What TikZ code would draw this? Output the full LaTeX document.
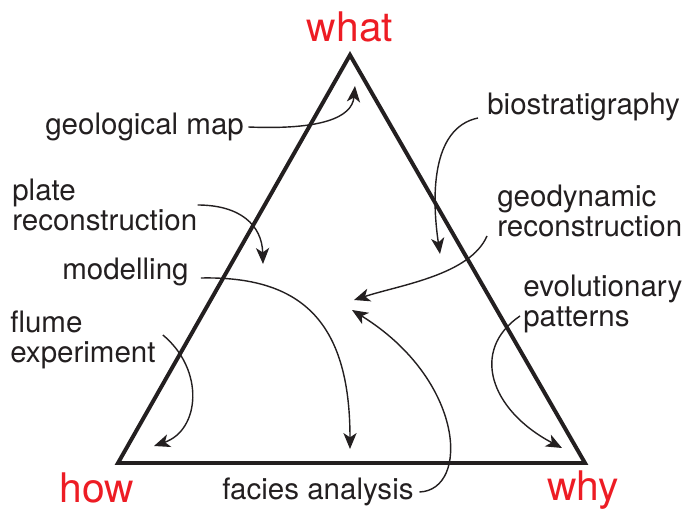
\documentclass[tikz,border=0pt]{standalone}
\usepackage{fontspec}
\setmainfont{TeX Gyre Heros}
\usepackage{xcolor}
\usetikzlibrary{arrows.meta, positioning}
\definecolor{vertexred}{RGB}{237,28,36}
\definecolor{inkgray}{RGB}{35,31,32}

\begin{document}
\begin{tikzpicture}[x=0.025cm, y=-0.025cm,
    side/.style={line width=2.8pt, line join=miter, color=inkgray},
    lbl/.style={font=\fontsize{21}{21}\selectfont, align=left, inner sep=0pt, text=inkgray},
    vtx/.style={font=\fontsize{29}{29}\selectfont, text=vertexred, inner sep=0pt},
    arr/.style={-{Stealth[length=4mm, width=3.3mm, inset=1.1mm]}, line width=1pt, color=inkgray}
]
\useasboundingbox (0,0) rectangle (686,511);

% triangle corners
\coordinate (top)   at (350,55);
\coordinate (left)  at (118,463);
\coordinate (right) at (585,463);
\draw[side] (top) -- (right) -- (left) -- cycle;

\node[vtx] (what) at (350,27)  {what};
\node[vtx] (how)  at (97,488)  {how};
\node[vtx] (why)  at (583,490) {why};

% labels round the triangle
\node[lbl, anchor=west] (geomap)  at (45,127)  {geological map};
\node[lbl, anchor=west] (bio)     at (487,107) {biostratigraphy};
\node[lbl, anchor=west] (plate)   at (12,205)  {plate\\reconstruction};
\node[lbl, anchor=west] (geodyn)  at (497,211) {geodynamic\\reconstruction};
\node[lbl, anchor=west] (model)   at (62,272)  {modelling};
\node[lbl, anchor=west] (evol)    at (523,304) {evolutionary\\patterns};
\node[lbl, anchor=west] (flume)   at (10,340)  {flume\\experiment};
\node[lbl, anchor=west] (facies)  at (222,492) {facies analysis};

% arrow tips inside the triangle
\coordinate (tmap)    at (355,86);
\coordinate (tbio)    at (440,254);
\coordinate (tplate)  at (263,264);
\coordinate (tmodel)  at (350,449);
\coordinate (tgeodyn) at (354,300);
\coordinate (tfacies) at (352,310);
\coordinate (tevol)   at (562,448);
\coordinate (tflume)  at (154,446);

\draw[arr] ([xshift=3]geomap.east) .. controls (320,130) and (352,118) .. (tmap);
\draw[arr] ([shift={(-9,11)}]bio.west) .. controls (430,128) and (432,200) .. (tbio);
\draw[arr] (plate.east) .. controls (240,205) and (262,225) .. (tplate);
\draw[arr] ([shift={(12,6)}]model.east) .. controls (300,276) and (350,320) .. (tmodel);
\draw[arr] ([shift={(-10,25)}]geodyn.west) .. controls (470,275) and (400,285) .. (tgeodyn);
\draw[arr] ([xshift=4]facies.east) .. controls (470,490) and (465,380) .. (tfacies);
\draw[arr] ([shift={(-3,12)}]evol.west) .. controls (470,350) and (490,410) .. (tevol);
\draw[arr] ([shift={(7,-5)}]flume.east) .. controls (205,370) and (200,430) .. (tflume);
\end{tikzpicture}
\end{document}
